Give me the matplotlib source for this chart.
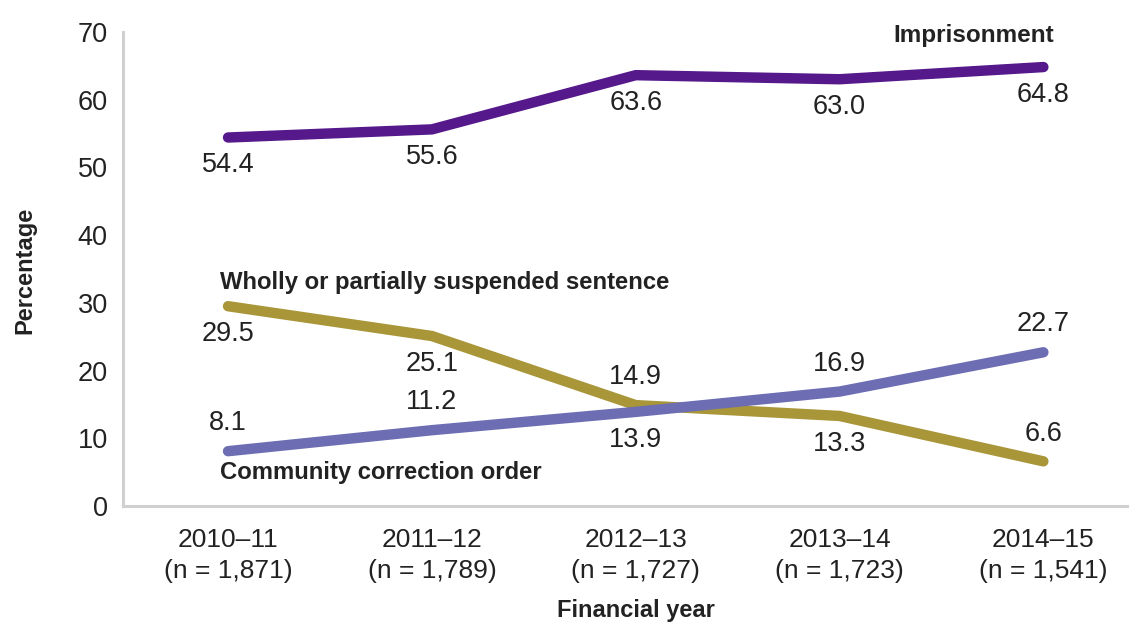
import matplotlib; matplotlib.use("Agg")
import matplotlib.pyplot as plt
import numpy as np

years = ["2010\u201311\n(n = 1,871)", "2011\u201312\n(n = 1,789)", "2012\u201313\n(n = 1,727)",
         "2013\u201314\n(n = 1,723)", "2014\u201315\n(n = 1,541)"]
imprisonment = [54.4, 55.6, 63.6, 63.0, 64.8]
suspended = [29.5, 25.1, 14.9, 13.3, 6.6]
community = [8.1, 11.2, 13.9, 16.9, 22.7]
# label placement per point: +1 above, -1 below
imp_pos = [-1, -1, -1, -1, -1]
sus_pos = [-1, -1, 1, -1, 1]
com_pos = [1, 1, -1, 1, 1]

TXT = "#222222"
NUM_FONT = "Liberation Sans"
LAB_FONT = ["Liberation Sans Narrow", "Liberation Sans"]

fig = plt.figure(figsize=(11.29, 6.24), dpi=100)
ax = fig.add_axes([0.109, 0.189, 0.891, 0.76])
x = np.arange(len(years))

series = [(imprisonment, "#55198b", imp_pos),
          (suspended, "#a89639", sus_pos),
          (community, "#6c6db2", com_pos)]
for vals, col, pos in series:
    ax.plot(x, vals, color=col, lw=7.5, solid_capstyle="round", solid_joinstyle="round")
    for xi, v, p in zip(x, vals, pos):
        ax.annotate(f"{v:.1f}", (xi, v), xytext=(0, 20 * p), textcoords="offset points",
                    ha="center", va="center", fontsize=19.5, color=TXT, family=NUM_FONT)

ax.text(4.05, 69.4, "Imprisonment", ha="right", va="center", fontsize=17.5,
        fontweight="bold", color=TXT, family=LAB_FONT)
ax.text(-0.04, 33.0, "Wholly or partially suspended sentence", ha="left", va="center",
        fontsize=17.2, fontweight="bold", color=TXT, family=LAB_FONT)
ax.text(-0.04, 5.0, "Community correction order", ha="left", va="center",
        fontsize=17.2, fontweight="bold", color=TXT, family=LAB_FONT)

ax.set_xlim(-0.515, 4.42)
ax.set_ylim(0, 70)
ax.set_yticks(range(0, 71, 10))
ax.set_xticks(x)
ax.set_xticklabels(years, fontsize=19, color=TXT, family=NUM_FONT, linespacing=1.35)
for lab in ax.get_yticklabels():
    lab.set_fontsize(19.5); lab.set_color(TXT); lab.set_family(NUM_FONT)
ax.tick_params(axis="y", length=0, pad=11)
ax.tick_params(axis="x", length=0, pad=16)

for s in ["top", "right"]:
    ax.spines[s].set_visible(False)
for s in ["left", "bottom"]:
    ax.spines[s].set_color("#d0d0d0")
    ax.spines[s].set_linewidth(2.2)

fig.text(25 / 1129, 1 - 270 / 624, "Percentage", rotation=90, ha="center", va="center",
         fontsize=17, fontweight="bold", color=TXT, family=LAB_FONT)
fig.text(636 / 1129, 1 - 610 / 624, "Financial year", ha="center", va="center",
         fontsize=17, fontweight="bold", color=TXT, family=LAB_FONT)

fig.savefig("out.png", dpi=100)
